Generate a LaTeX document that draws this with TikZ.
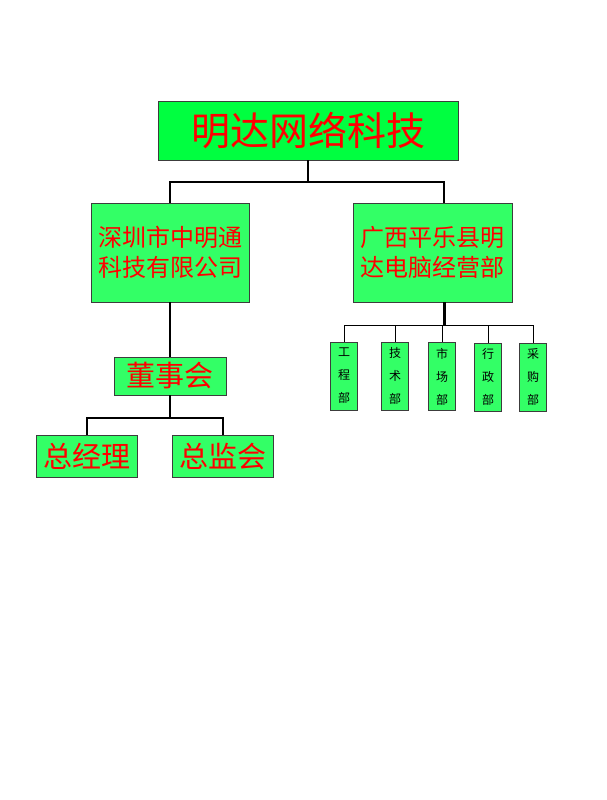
\documentclass[tikz,border=0pt]{standalone}
\usepackage{fontspec}
\newfontfamily\cjk{Noto Sans CJK SC}
\definecolor{topgreen}{RGB}{0,255,64}
\definecolor{boxgreen}{RGB}{51,255,102}
\definecolor{edge}{RGB}{60,60,60}

\begin{document}
\begin{tikzpicture}[x=1pt,y=-1pt,
  unit/.style={draw=edge, line width=0.8pt, fill=boxgreen, text=red, inner sep=0pt, align=center},
  dept/.style={unit, text=black, minimum width=27pt, minimum height=68pt, font=\cjk\fontsize{12}{23}\selectfont},
  link/.style={line width=2pt, black}]
\useasboundingbox[fill=white] (0,0) rectangle (606,800);

% head office
\node[unit, fill=topgreen, minimum width=300pt, minimum height=59pt, font=\cjk\fontsize{39}{44}\selectfont] (top) at (308,130.5) {明达网络科技};

% two companies
\node[unit, minimum width=158pt, minimum height=99pt, font=\cjk\fontsize{24}{30}\selectfont] (sz) at (170,252.5) {深圳市中明通\\科技有限公司};
\node[unit, minimum width=159pt, minimum height=99pt, font=\cjk\fontsize{24}{30}\selectfont] (gx) at (432.5,252.5) {广西平乐县明\\达电脑经营部};

% board and below
\node[unit, minimum width=112pt, minimum height=38pt, font=\cjk\fontsize{29}{32}\selectfont] (board) at (170,376) {董事会};
\node[unit, minimum width=101pt, minimum height=42pt, font=\cjk\fontsize{29}{32}\selectfont] (gm) at (86.5,456) {总经理};
\node[unit, minimum width=101pt, minimum height=42pt, font=\cjk\fontsize{29}{32}\selectfont] (sup) at (222.5,456) {总监会};

% departments
\node[dept] (d1) at (344,376) {工\\程\\部};
\node[dept] (d2) at (395,376) {技\\术\\部};
\node[dept] (d3) at (442,376.5) {市\\场\\部};
\node[dept] (d4) at (488,377) {行\\政\\部};
\node[dept] (d5) at (533,377) {采\\购\\部};

% connectors
\draw[link] (top.south) -- ++(0,22) coordinate (j1);
\draw[link] (j1) -| (sz.north);
\draw[link] (j1) -| ([xshift=11.5pt]gx.north);
\draw[link] (sz.south) -- (board.north);
\draw[link] (board.south) -- ++(0,23) coordinate (j2);
\draw[link] (j2) -| (gm.north);
\draw[link] (j2) -| (sup.north);
\draw[line width=3pt] ([xshift=11.5pt]gx.south) -- ++(0,23) coordinate (j3);
\foreach \d in {d1,d2,d3,d4,d5}
  \draw[line width=1pt] (j3) -| (\d.north);
\end{tikzpicture}
\end{document}
